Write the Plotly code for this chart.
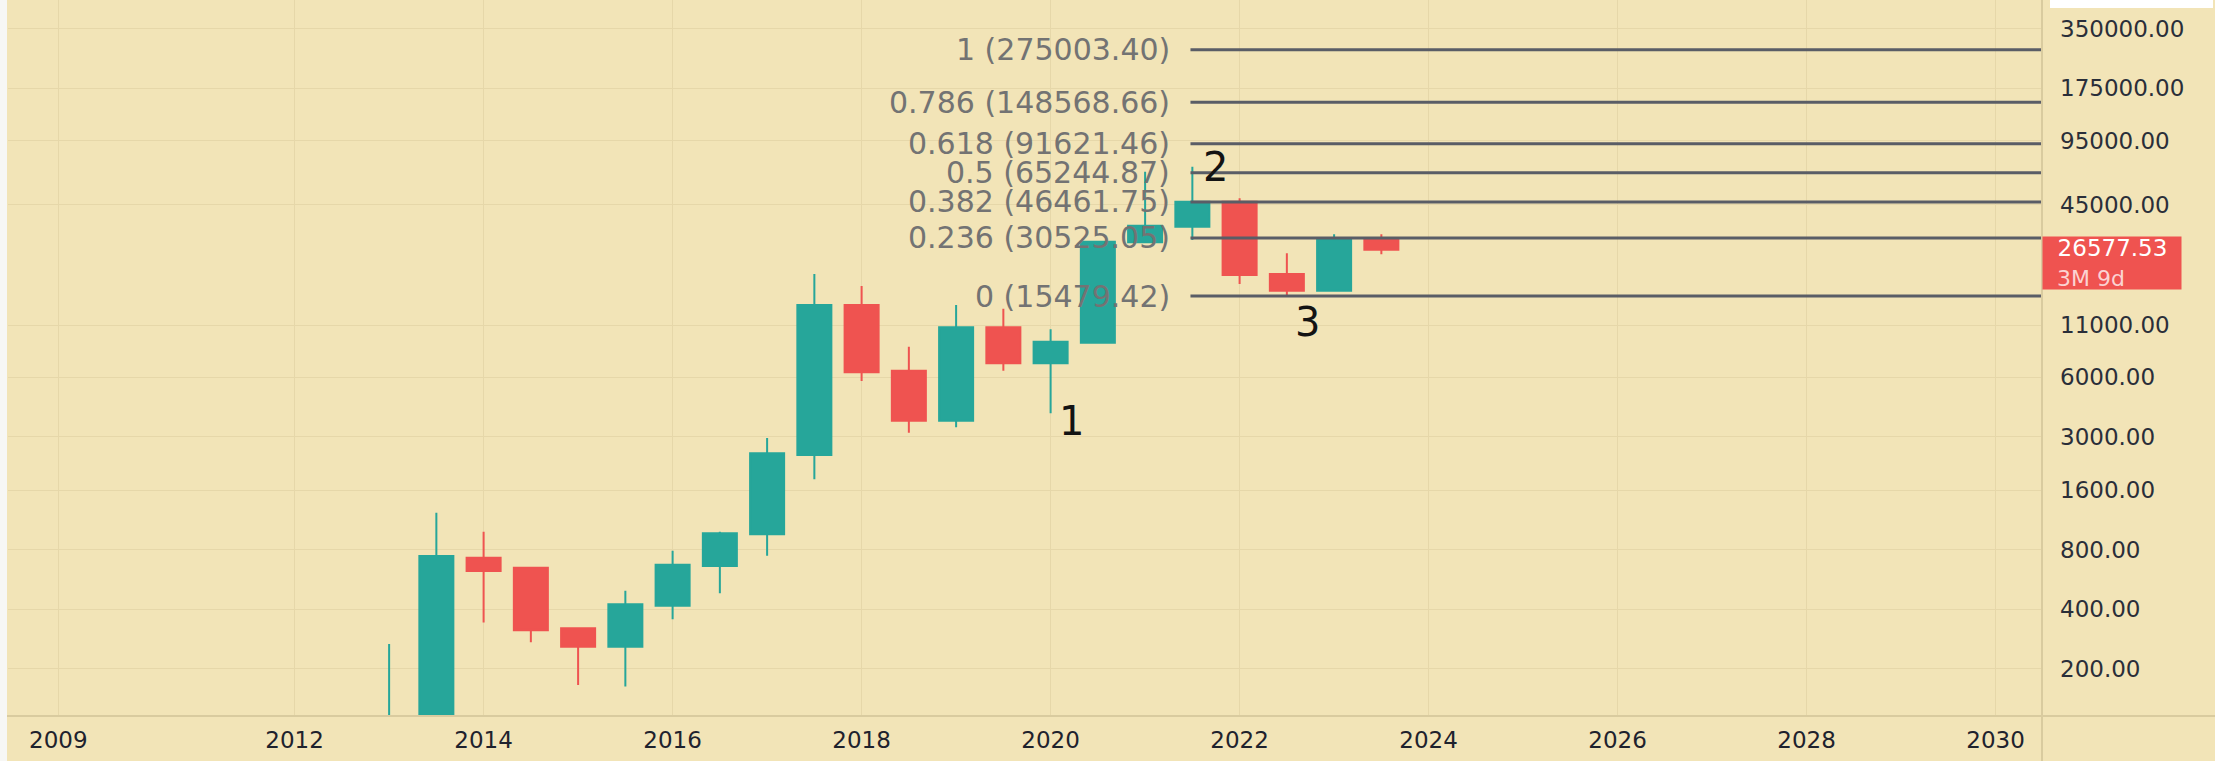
import numpy as np
import plotly.graph_objects as go

# ---- data (semi-annual candles) ----
periods = ["2013-H1", "2013-H2", "2014-H1", "2014-H2", "2015-H1", "2015-H2",
           "2016-H1", "2016-H2", "2017-H1", "2017-H2", "2018-H1", "2018-H2",
           "2019-H1", "2019-H2", "2020-H1", "2020-H2", "2021-H1", "2021-H2",
           "2022-H1", "2022-H2", "2023-H1", "2023-H2"]
opens = [13.5, 97, 729, 649, 320, 258, 416, 662, 958, 2419, 13943, 6474,
         3610, 10745, 7058, 8981, 29000, 34780, 46570, 20020, 16475, 30380]
highs = [266, 1233, 988, 657, 320, 496, 791, 988, 2950, 20020, 17405, 8568,
         13943, 13352, 10498, 29300, 66130, 70080, 48460, 25500, 31840, 31840]
lows = [13.3, 65, 342, 272, 165, 162, 355, 481, 747, 1822, 5741, 3139,
        3343, 6474, 3937, 8950, 28800, 29780, 17815, 15479.42, 16450, 25200]
closes = [97, 744, 624, 313, 258, 423, 672, 970, 2468, 13943, 6356, 3610,
          10745, 7058, 9082, 29196, 35190, 46570, 19790, 16475, 30380, 26577.53]

fib_ratios = ["0", "0.236", "0.382", "0.5", "0.618", "0.786", "1"]
fib_prices = [15479.42, 30525.05, 46461.75, 65244.87, 91621.46, 148568.66, 275003.40]

wave_labels = ["1", "2", "3"]
wave_x = [2020.22, 2021.74, 2022.72]
wave_y = [3600, 69800, 11430]

year_ticks = [2009.5, 2012, 2014, 2016, 2018, 2020, 2022, 2024, 2026, 2028, 2030]
year_labels = ["2009", "2012", "2014", "2016", "2018", "2020", "2022", "2024", "2026", "2028", "2030"]
price_ticks = [200, 400, 800, 1600, 3000, 6000, 11000, 45000, 95000, 175000, 350000]

last_price = 26577.53
countdown = "3M 9d"

# ---- styling ----
BG = "#F2E4B7"
GRID = "#E6D7A9"
SEP = "#D9CB9F"
UP = "#26A69A"
DOWN = "#EF5350"
FONT = "DejaVu Sans"

x_vals = [int(p[:4]) + (0.5 if p.endswith("H2") else 0.0) for p in periods]

fig = go.Figure()
fig.add_trace(go.Candlestick(
    x=x_vals, open=opens, high=highs, low=lows, close=closes,
    increasing=dict(line=dict(color=UP, width=2), fillcolor=UP),
    decreasing=dict(line=dict(color=DOWN, width=2), fillcolor=DOWN),
    whiskerwidth=0, showlegend=False, hoverinfo="skip",
))

fib_x0 = 2021.48
fib_x1 = 2031.0
for r, p in zip(fib_ratios, fib_prices):
    fig.add_trace(go.Scatter(
        x=[fib_x0, fib_x1], y=[p, p], mode="lines",
        line=dict(color="#5A5D66", width=3), showlegend=False, hoverinfo="skip",
    ))
    fig.add_annotation(
        x=fib_x0, y=np.log10(p), xref="x", yref="y",
        text=f"{r} ({p:.2f})", showarrow=False,
        xanchor="right", yanchor="middle", xshift=-18,
        font=dict(family=FONT, size=30, color="#737373"),
    )

for t, xv, yv in zip(wave_labels, wave_x, wave_y):
    fig.add_annotation(
        x=xv, y=np.log10(yv), xref="x", yref="y", text=t, showarrow=False,
        xanchor="center", yanchor="middle",
        font=dict(family=FONT, size=40, color="#131313"),
    )

# last price box on the price scale
fig.add_annotation(
    x=1, xref="paper", y=np.log10(last_price), yref="y",
    text=(f"&nbsp;&nbsp;{last_price:.2f}<br>"
          f"<span style='color:#FBD3D2;font-size:22px'>&nbsp;&nbsp;{countdown}</span>"),
    showarrow=False, xanchor="left", yanchor="top", yshift=14,
    align="left", valign="middle", width=138, height=52,
    bgcolor=DOWN, borderpad=0,
    font=dict(family=FONT, size=23, color="#FFFFFF"),
)

W, H = 2215, 761
ml, mr, mt, mb = 8, 173, 0, 45
pw = W - ml - mr
ph = H - mt - mb

shapes = [
    # price-scale separator
    dict(type="line", xref="paper", yref="paper", x0=1, x1=1, y0=-mb / ph, y1=1,
         line=dict(color=SEP, width=2)),
    # time-scale separator
    dict(type="line", xref="paper", yref="paper", x0=-ml / pw, x1=1 + mr / pw, y0=0, y1=0,
         line=dict(color=SEP, width=2)),
    # left page edge
    dict(type="rect", xref="paper", yref="paper", x0=-ml / pw, x1=-1 / pw, y0=-mb / ph, y1=1,
         fillcolor="#F7F7F5", line=dict(width=0)),
    # small white widget at top right
    dict(type="rect", xref="paper", yref="paper", x0=(2050 - ml) / pw, x1=(2213 - ml) / pw,
         y0=1 - 8 / ph, y1=1, fillcolor="#FFFFFF", line=dict(width=0)),
]

fig.update_layout(
    width=W, height=H, autosize=False,
    margin=dict(l=ml, r=mr, t=mt, b=mb),
    paper_bgcolor=BG, plot_bgcolor=BG,
    shapes=shapes, hovermode=False,
    boxgap=0.28, boxgroupgap=0,
    xaxis=dict(
        range=[2008.967, 2030.491], tickmode="array",
        tickvals=year_ticks, ticktext=year_labels,
        showgrid=True, gridcolor=GRID, gridwidth=1, zeroline=False,
        showline=False, ticks="", ticklabelstandoff=8,
        tickfont=dict(family=FONT, size=23, color="#1E222D"),
        rangeslider=dict(visible=False), fixedrange=True,
    ),
    yaxis=dict(
        type="log", range=[2.0601, 5.691], side="right",
        tickmode="array", tickvals=price_ticks,
        ticktext=[f"{v:.2f}" for v in price_ticks],
        showgrid=True, gridcolor=GRID, gridwidth=1, zeroline=False,
        showline=False, ticks="", ticklabelstandoff=17,
        tickfont=dict(family=FONT, size=23, color="#2A2E39"),
        fixedrange=True,
    ),
)

fig.write_html(
    "out.html",
    config={"displayModeBar": False},
    post_script="document.body.style.margin='0';document.body.style.overflow='hidden';"
                "document.body.style.background='" + BG + "';",
)
